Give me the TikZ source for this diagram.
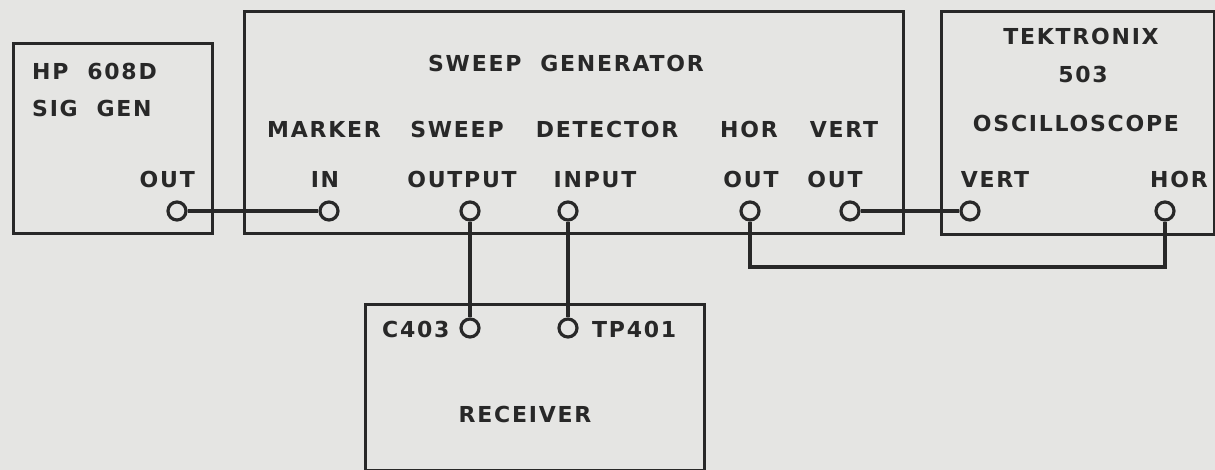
\documentclass[tikz,border=0pt]{standalone}
\usepackage{fontspec}
\setmainfont[LetterSpace=8,BoldFont={DejaVu Sans Bold}]{DejaVu Sans}
\definecolor{bg}{RGB}{229,229,227}
\definecolor{ink}{RGB}{40,40,40}
\begin{document}
\begin{tikzpicture}[x=1pt,y=-1pt,
  box/.style={draw=ink,line width=3.2pt,anchor=north west,inner sep=0pt},
  port/.style={circle,draw=ink,line width=3.2pt,fill=bg,minimum size=18pt,inner sep=0pt},
  lbl/.style={text=ink,font=\fontsize{22}{26}\selectfont\bfseries,anchor=base,inner sep=0pt},
  wire/.style={draw=ink,line width=3.2pt}]
\fill[bg] (0,0) rectangle (1215,470);
\useasboundingbox (0,0) rectangle (1215,470);
% boxes
\node[box,minimum width=199pt,minimum height=190pt] (hp) at (12,42) {};
\node[box,minimum width=659pt,minimum height=222pt] (sg) at (243,10) {};
\node[box,minimum width=273pt,minimum height=223pt] (tek) at (940,10) {};
\node[box,minimum width=339pt,minimum height=166pt] (rx) at (364,303) {};
% labels
\node[lbl,anchor=base west] (t1) at (32,80) {HP\ \ 608D};
\node[lbl,anchor=base west] (t2) at (32,117) {SIG\ \ GEN};
\node[lbl,anchor=base east] (t3) at (195,188) {OUT};
\node[lbl] (t4) at (566,72) {SWEEP\ \ GENERATOR};
\node[lbl] (t5) at (324,138) {MARKER};
\node[lbl] (t6) at (325,188) {IN};
\node[lbl] (t7) at (457,138) {SWEEP};
\node[lbl] (t8) at (462,188) {OUTPUT};
\node[lbl] (t9) at (607,138) {DETECTOR};
\node[lbl] (t10) at (595,188) {INPUT};
\node[lbl] (t11) at (749,138) {HOR};
\node[lbl] (t12) at (751,188) {OUT};
\node[lbl] (t13) at (844,138) {VERT};
\node[lbl] (t14) at (835,188) {OUT};
\node[lbl] (t15) at (1081,45) {TEKTRONIX};
\node[lbl] (t16) at (1083,83) {503};
\node[lbl] (t17) at (1076,132) {OSCILLOSCOPE};
\node[lbl] (t18) at (995,188) {VERT};
\node[lbl] (t19) at (1179,188) {HOR};
\node[lbl,anchor=base west] (t20) at (382,337) {C403};
\node[lbl,anchor=base west] (t21) at (592,337) {TP401};
\node[lbl] (t22) at (525,422) {RECEIVER};
% ports
\node[port] (hpout) at (177,211) {};
\node[port] (mkin) at (329,211) {};
\node[port] (swout) at (470,211) {};
\node[port] (detin) at (568,211) {};
\node[port] (horout) at (750,211) {};
\node[port] (vertout) at (850,211) {};
\node[port] (svert) at (970,211) {};
\node[port] (shor) at (1165,211) {};
\node[port] (c403) at (470,328) {};
\node[port] (tp401) at (568,328) {};
\coordinate (hb) at (750,267);
% wires
\draw[wire] (hpout) -- (mkin);
\draw[wire] (swout) -- (c403);
\draw[wire] (detin) -- (tp401);
\draw[wire] (vertout) -- (svert);
\draw[wire] (horout) -- (hb) -| (shor);
\end{tikzpicture}
\end{document}
